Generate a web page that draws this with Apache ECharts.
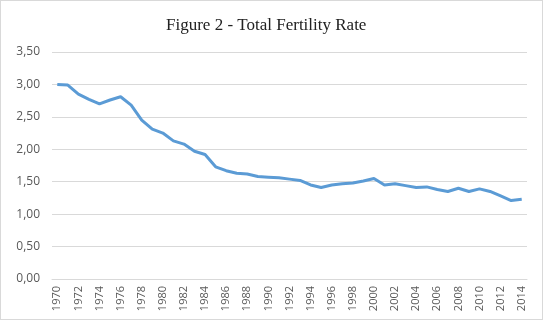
<!DOCTYPE html>
<html>
<head>
<meta charset="utf-8">
<script src="https://cdn.jsdelivr.net/npm/echarts@6/dist/echarts.min.js"></script>
<style>
  html, body { margin: 0; padding: 0; background: #fff; }
  #chart { width: 541px; height: 318px; border: 1px solid #d9d9d9; }
</style>
</head>
<body>
<div id="chart"></div>
<script>
// Total fertility rate, 1970-2014
const years = [];
for (let y = 1970; y <= 2014; y++) years.push(String(y));

const fertility = [
  3.00, 2.99, 2.85, 2.77, 2.70, 2.76, 2.81, 2.68, 2.45, 2.31,
  2.25, 2.13, 2.08, 1.97, 1.92, 1.73, 1.67, 1.63, 1.62, 1.58,
  1.57, 1.56, 1.54, 1.52, 1.45, 1.41, 1.45, 1.47, 1.48, 1.51,
  1.55, 1.45, 1.47, 1.44, 1.41, 1.42, 1.38, 1.35, 1.40, 1.35,
  1.39, 1.35, 1.28, 1.21, 1.23
];

const chart = echarts.init(document.getElementById('chart'));

chart.setOption({
  animation: false,
  title: {
    text: 'Figure 2 - Total Fertility Rate',
    left: 160,
    top: 11,
    textStyle: {
      fontFamily: 'Liberation Serif',
      fontWeight: 'normal',
      fontSize: 17,
      color: '#222'
    }
  },
  grid: { left: 51, right: 15, top: 51, bottom: 40 },
  xAxis: {
    type: 'category',
    data: years,
    boundaryGap: true,
    axisLine: { lineStyle: { color: '#d9d9d9' } },
    axisTick: { show: false },
    axisLabel: {
      interval: 1,
      rotate: 90,
      color: '#595959',
      fontFamily: 'Open Sans',
      fontSize: 11,
      margin: 7
    }
  },
  yAxis: {
    type: 'value',
    min: 0,
    max: 3.5,
    interval: 0.5,
    axisLine: { show: false },
    axisTick: { show: false },
    splitLine: { lineStyle: { color: '#d9d9d9' } },
    axisLabel: {
      color: '#595959',
      fontFamily: 'Open Sans',
      fontSize: 12,
      margin: 12,
      formatter: v => v.toFixed(2).replace('.', ',')
    }
  },
  series: [{
    type: 'line',
    data: fertility,
    showSymbol: false,
    lineStyle: { color: '#5b9bd5', width: 3 },
    itemStyle: { color: '#5b9bd5' }
  }]
});
</script>
</body>
</html>
